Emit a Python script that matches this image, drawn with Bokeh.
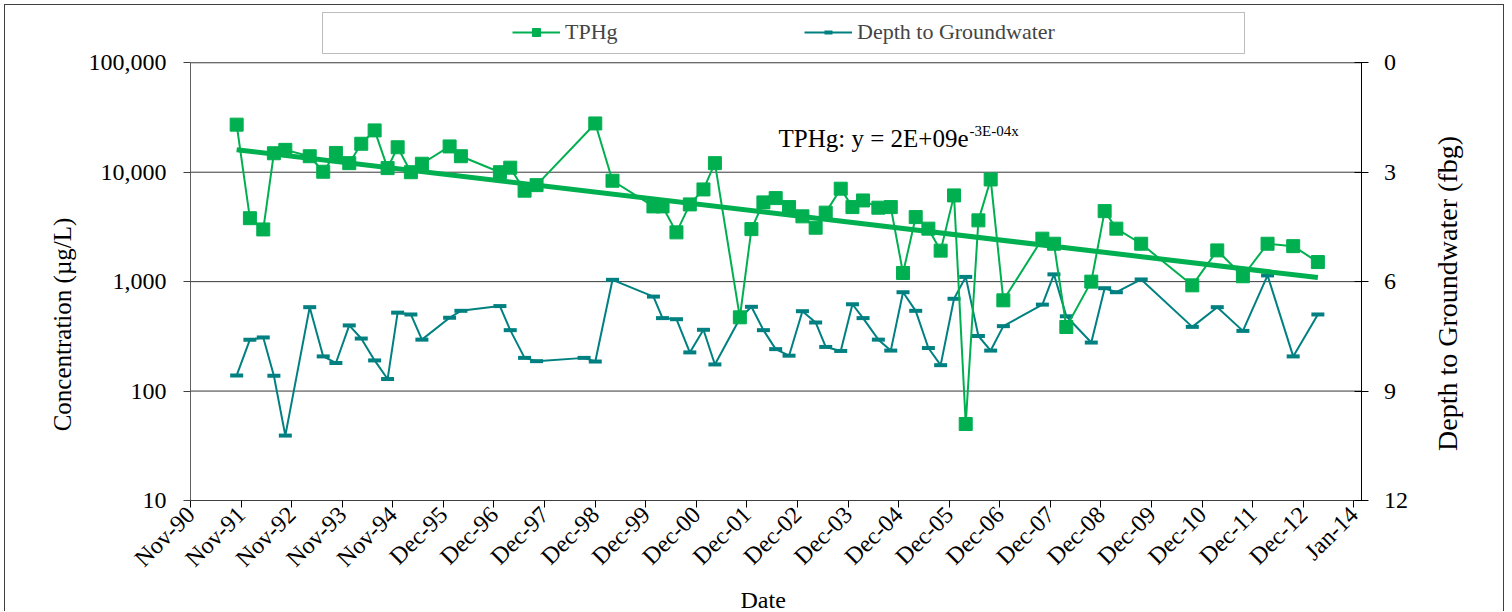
import math
from datetime import datetime, timedelta

import numpy as np
import pandas as pd
from bokeh.plotting import figure
from bokeh.models import (Range1d, LinearAxis, LinearScale, FixedTicker, NumeralTickFormatter,
                          DatetimeTickFormatter, Legend, LegendItem, Label, BoxAnnotation,
                          ColumnDataSource)
from bokeh.embed import file_html
from bokeh.resources import INLINE

# ---------------- data ----------------
dates = ["1991-10-23", "1992-01-27", "1992-05-03", "1992-07-19", "1992-10-10", "1993-04-05",
         "1993-07-12", "1993-10-12", "1994-01-17", "1994-04-14", "1994-07-20", "1994-10-22",
         "1995-01-03", "1995-04-09", "1995-06-28", "1996-01-15", "1996-04-06", "1997-01-14",
         "1997-03-30", "1997-07-12", "1997-10-07", "1998-09-17", "1998-12-07", "1999-04-11",
         "2000-02-02", "2000-04-08", "2000-07-18", "2000-10-23", "2001-01-30", "2001-04-23",
         "2001-10-21", "2002-01-13", "2002-04-10", "2002-07-08", "2002-10-13", "2003-01-18",
         "2003-04-24", "2003-07-06", "2003-10-23", "2004-01-16", "2004-04-02", "2004-07-22",
         "2004-10-20", "2005-01-17", "2005-04-19", "2005-07-20", "2005-10-17", "2006-01-22",
         "2006-04-17", "2006-07-18", "2006-10-15", "2007-01-15", "2007-10-25", "2008-01-17",
         "2008-04-16", "2008-10-14", "2009-01-19", "2009-04-14", "2009-10-11", "2010-10-17",
         "2011-04-16", "2011-10-19", "2012-04-15", "2012-10-18", "2013-04-15"]

tphg = [27200, 3800, 3000, 14900, 16000, 14000, 10100, 15000, 12100, 18200,
        24100, 10900, 16900, 10000, 11950, 17200, 14000, 10000, 11000, 6780,
        7620, None, 27900, 8360, 4870, 4870, 2820, 5080, 6960, 12100,
        472, 3020, 5300, 5800, 4800, 3950, 3110, 4270, 7070, 4800,
        5520, 4740, 4800, 1200, 3890, 3050, 1920, 6140, 50, 3630,
        8590, 675, 2470, 2220, 385, 1000, 4410, 3050, 2220, 925,
        1930, 1120, 2220, 2110, 1510]

depth = [8.57, 7.59, 7.53, 8.58, 10.22, 6.70, 8.05, 8.23, 7.20, 7.56,
         8.16, 8.67, 6.85, 6.90, 7.59, 6.99, 6.80, 6.67, 7.33, 8.09,
         8.18, 8.09, 8.19, 5.95, 6.41, 7.00, 7.03, 7.94, 7.32, 8.27,
         7.01, 6.69, 7.33, 7.85, 8.03, 6.81, 7.12, 7.79, 7.90, 6.62,
         7.00, 7.59, 7.89, 6.29, 6.80, 7.82, 8.29, 6.47, 5.87, 7.49,
         7.89, 7.22, 6.63, 5.80, 6.95, 7.67, 6.18, 6.29, 5.94, 7.24,
         6.70, 7.35, 5.83, 8.05, 6.90]

conc_ticks = [10, 100, 1000, 10000, 100000]
depth_ticks = [0, 3, 6, 9, 12]
axis_start = "1990-11-22"
tick_step_days = 367
n_date_ticks = 24
axis_span_days = 8493

FONT = "Liberation Serif"
GREEN = "#00B050"
TEAL = "#008080"

# layout (pixels, figure coordinates; the frame fills the whole figure)
FIG_W, FIG_H = 1500, 607
PLOT_L, PLOT_R, PLOT_B = 185, 1355.5, 495       # plot-area edges
DECADE_PX = 109.43                              # height of one decade on the log axis
head_dec = (PLOT_B - 4 * DECADE_PX) / DECADE_PX  # band above 100,000 (legend + equation)
foot_dec = (FIG_H - PLOT_B) / DECADE_PX          # band below 10 (date labels)
px_per_day = (PLOT_R - PLOT_L) / axis_span_days
left_days = PLOT_L / px_per_day                  # band left of the plot area
right_days = (FIG_W - PLOT_R) / px_per_day       # band right of the plot area

# ---------------- derived ----------------
dts = pd.to_datetime(dates)
t0 = datetime.strptime(axis_start, "%Y-%m-%d")
t_end = t0 + timedelta(days=axis_span_days)
epoch = datetime(1970, 1, 1)
to_ms = lambda d: (d - epoch).total_seconds() * 1000.0
tick_ms = [to_ms(t0 + timedelta(days=k * tick_step_days)) for k in range(n_date_ticks)]

mask = [v is not None for v in tphg]
t_x = [d for d, m in zip(dts, mask) if m]
t_y = [v for v in tphg if v is not None]
src_t = ColumnDataSource(data=dict(x=t_x, y=t_y))
src_d = ColumnDataSource(data=dict(x=list(dts), y=depth))

# exponential trend (least squares on ln y)
days = np.array([(d - pd.Timestamp("1900-01-01")).days for d in t_x], dtype=float)
b, a = np.polyfit(days, np.log(np.array(t_y, dtype=float)), 1)
trend_x = [t_x[0], t_x[-1]]
trend_y = [float(np.exp(a + b * days[0])), float(np.exp(a + b * days[-1]))]

# ---------------- figure ----------------
p = figure(width=FIG_W, height=FIG_H, x_axis_type="datetime", y_axis_type="log",
           x_range=Range1d(t0 - timedelta(days=left_days), t_end + timedelta(days=right_days)),
           y_range=Range1d(10 ** (1 - foot_dec), 10 ** (5 + head_dec)),
           output_backend="svg", toolbar_location=None,
           min_border_left=0, min_border_right=0,
           min_border_top=0, min_border_bottom=0)
p.extra_y_ranges = {"depth": Range1d(start=12 + 3 * foot_dec, end=-3 * head_dec)}
p.extra_y_scales = {"depth": LinearScale()}
p.styles = {"margin-left": "4px", "margin-top": "4px",
            "border-left": "1px solid #404040", "border-right": "1px solid #404040",
            "border-top": "1px solid #404040"}

p.outline_line_color = None
p.xgrid.visible = False
p.ygrid.visible = False

# horizontal grid lines across the plot area only
p.segment(x0=[t0] * len(conc_ticks), x1=[t_end] * len(conc_ticks),
          y0=conc_ticks, y1=conc_ticks, line_color="#383838", line_width=1)

# left axis, pinned to the left edge of the plot area
ya = p.yaxis[0]
ya.fixed_location = to_ms(t0)
ya.ticker = FixedTicker(ticks=conc_ticks, minor_ticks=[])
ya.bounds = (10, 100000)
ya.formatter = NumeralTickFormatter(format="0,0")
ya.major_label_text_font = FONT
ya.major_label_text_font_size = "24px"
ya.major_label_text_color = "black"
ya.major_label_standoff = 17
ya.major_tick_in = 0
ya.major_tick_out = 7
ya.minor_tick_line_color = None
ya.axis_line_color = "#606060"
ya.major_tick_line_color = "#404040"

# bottom axis, pinned to the bottom of the plot area (y = 10)
xa = p.xaxis[0]
xa.fixed_location = 10
xa.ticker = FixedTicker(ticks=tick_ms, minor_ticks=[])
xa.bounds = (t0, t_end)
fmt = "%b-%y"
xa.formatter = DatetimeTickFormatter(microseconds=fmt, milliseconds=fmt, seconds=fmt, minsec=fmt,
                                     minutes=fmt, hourmin=fmt, hours=fmt, days=fmt,
                                     months=fmt, years=fmt)
xa.major_label_orientation = math.pi / 4
xa.major_label_text_font = FONT
xa.major_label_text_font_size = "24px"
xa.major_label_text_color = "black"
xa.major_label_standoff = 3
xa.major_tick_in = 0
xa.major_tick_out = 7
xa.minor_tick_line_color = None
xa.axis_line_color = "#404040"

# right axis, pinned to the right edge of the plot area
ra = LinearAxis(y_range_name="depth", ticker=FixedTicker(ticks=depth_ticks, minor_ticks=[]),
                fixed_location=to_ms(t_end))
ra.bounds = (0, 12)
ra.major_label_text_font = FONT
ra.major_label_text_font_size = "24px"
ra.major_label_text_color = "black"
ra.major_label_standoff = 16
ra.major_tick_in = 7
ra.major_tick_out = 7
ra.minor_tick_line_color = None
ra.axis_line_color = "black"
p.add_layout(ra, "right")

# ---------------- glyphs ----------------
dl = p.line("x", "y", source=src_d, y_range_name="depth", line_color=TEAL, line_width=2)
ds = p.scatter("x", "y", source=src_d, y_range_name="depth", marker="dash", size=13,
               line_color=TEAL, line_width=4)
tl = p.line("x", "y", source=src_t, line_color=GREEN, line_width=2)
ts = p.scatter("x", "y", source=src_t, marker="square", size=13,
               fill_color=GREEN, line_color=GREEN)
p.line(trend_x, trend_y, line_color=GREEN, line_width=5)

# axis titles drawn as labels (screen px from the frame's bottom-left)
p.add_layout(Label(x=57, y=288, x_units="screen", y_units="screen", angle=math.pi / 2,
                   text="Concentration (µg/L)", text_font=FONT, text_font_size="25px",
                   text_align="center", text_baseline="middle", text_color="black"))
p.add_layout(Label(x=1442, y=319, x_units="screen", y_units="screen", angle=math.pi / 2,
                   text="Depth to Groundwater (fbg)", text_font=FONT, text_font_size="28px",
                   text_align="center", text_baseline="middle", text_color="black"))
p.add_layout(Label(x=735, y=13, x_units="screen", y_units="screen",
                   text="Date", text_font=FONT, text_font_size="24px",
                   text_align="left", text_baseline="middle", text_color="black"))

# equation
p.add_layout(Label(x=773, y=474, x_units="screen", y_units="screen",
                   text="TPHg: y = 2E+09e", text_font=FONT, text_font_size="25px",
                   text_baseline="alphabetic", text_color="black"))
p.add_layout(Label(x=964, y=482, x_units="screen", y_units="screen",
                   text="-3E-04x", text_font=FONT, text_font_size="15px",
                   text_baseline="alphabetic", text_color="black"))

# legend box + legend
p.add_layout(BoxAnnotation(left=317, right=1239, bottom=559, top=600,
                           left_units="screen", right_units="screen",
                           bottom_units="screen", top_units="screen",
                           fill_color="white", fill_alpha=1.0,
                           line_color="#202020", line_width=1))
legend = Legend(items=[LegendItem(label="TPHg", renderers=[tl, ts]),
                       LegendItem(label="Depth to Groundwater", renderers=[dl, ds])],
                location=(507, 567), orientation="horizontal", padding=0, margin=0,
                spacing=39, glyph_width=48, glyph_height=20, label_width=200,
                label_height=20, label_standoff=5, border_line_alpha=0,
                background_fill_alpha=0, label_text_font=FONT,
                label_text_font_size="22px")
p.add_layout(legend)

open("out.html", "w").write(file_html(p, INLINE))
